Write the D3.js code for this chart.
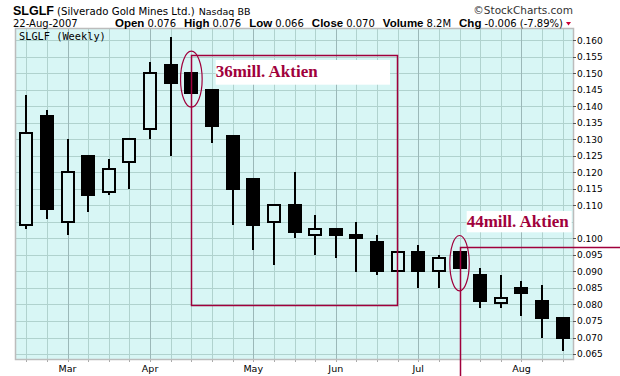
<!DOCTYPE html>
<html><head><meta charset="utf-8">
<script src="https://cdn.jsdelivr.net/npm/d3@7"></script>
<style>
html,body{margin:0;padding:0;background:#fff;}
svg{display:block;}
</style></head>
<body>
<script>
// ---- data ----
const weeks = ["2007-02-19","2007-02-26","2007-03-05","2007-03-12","2007-03-19","2007-03-26","2007-04-02","2007-04-09","2007-04-16","2007-04-23","2007-04-30","2007-05-07","2007-05-14","2007-05-21","2007-05-28","2007-06-04","2007-06-11","2007-06-18","2007-06-25","2007-07-02","2007-07-09","2007-07-16","2007-07-23","2007-07-30","2007-08-06","2007-08-13","2007-08-20"];
const openV  = [0.104,0.137,0.105,0.125,0.114,0.123,0.133,0.1525,0.150,0.145,0.131,0.118,0.105,0.110,0.101,0.103,0.101,0.099,0.090,0.096,0.090,0.096,0.089,0.0806,0.085,0.081,0.076];
const highV  = [0.1435,0.139,0.130,0.125,0.124,0.130,0.1535,0.161,0.150,0.145,0.131,0.118,0.110,0.120,0.107,0.103,0.105,0.101,0.096,0.098,0.095,0.096,0.091,0.089,0.087,0.086,0.076];
const lowV   = [0.103,0.106,0.101,0.108,0.113,0.115,0.130,0.125,0.144,0.129,0.104,0.0965,0.092,0.100,0.095,0.094,0.0897,0.089,0.090,0.085,0.085,0.091,0.079,0.079,0.0766,0.070,0.066];
const closeV = [0.132,0.109,0.120,0.113,0.121,0.130,0.150,0.147,0.144,0.134,0.115,0.104,0.110,0.102,0.103,0.101,0.100,0.090,0.096,0.090,0.094,0.091,0.081,0.082,0.0836,0.076,0.070];
const yTicks = [0.065,0.070,0.075,0.080,0.085,0.090,0.095,0.100,0.110,0.115,0.120,0.125,0.130,0.135,0.140,0.145,0.150,0.155,0.160];
const yGrid = d3.range(0.065, 0.1601, 0.005);
const monthNames = ["Jan","Feb","Mar","Apr","May","Jun","Jul","Aug","Sep","Oct","Nov","Dec"];
const headerLine = [["Open","0.076"],["High","0.076"],["Low","0.066"],["Close","0.070"],["Volume","8.2M"],["Chg","-0.006 (-7.89%)"]];

// ---- layout ----
const W = 620, H = 376;
const L = 16, R = 573, T = 29, B = 359;
const BG = "#d8f6f5";
const RED = "#a0003c";

const svg = d3.select("body").append("svg").attr("width", W).attr("height", H)
  .style("font-family", "'DejaVu Sans', sans-serif");

const x = d3.scaleBand().domain(weeks).range([L, R]).padding(0);
const cx = d => x(d) + x.bandwidth() / 2;
const y = d3.scaleLinear().domain([0.0635, 0.1634]).range([B, T]);
const px = v => Math.round(v) + 0.5;

// plot background
svg.append("rect").attr("x", L).attr("y", T).attr("width", R - L).attr("height", B - T).attr("fill", BG);

// horizontal grid
svg.append("g").selectAll("line").data(yGrid).join("line")
  .attr("x1", L).attr("x2", R)
  .attr("y1", d => px(y(d))).attr("y2", d => px(y(d)))
  .attr("stroke", "#b0d2ce").attr("stroke-width", 1);

// month start flags
const parse = d3.timeParse("%Y-%m-%d");
const isMonthStart = weeks.map((w, i) => i > 0 && parse(w).getMonth() !== parse(weeks[i - 1]).getMonth());

// vertical grid
svg.append("g").selectAll("line").data(weeks).join("line")
  .attr("x1", d => px(cx(d))).attr("x2", d => px(cx(d)))
  .attr("y1", T).attr("y2", B)
  .attr("stroke", (d, i) => isMonthStart[i] ? "#9bb8b8" : "#b0d2ce").attr("stroke-width", 1);

// bottom ticks
svg.append("g").selectAll("line").data(weeks).join("line")
  .attr("x1", d => px(cx(d))).attr("x2", d => px(cx(d)))
  .attr("y1", B).attr("y2", B + 3)
  .attr("stroke", "#aaa");

// month labels
svg.append("g").selectAll("text").data(weeks.filter((w, i) => isMonthStart[i])).join("text")
  .attr("x", d => cx(d)).attr("y", 371.5).attr("text-anchor", "middle")
  .attr("font-size", 9.5).attr("fill", "#000")
  .text(d => monthNames[parse(d).getMonth()]);

// border
svg.append("rect").attr("x", L - 0.5).attr("y", T - 0.5).attr("width", R - L + 1).attr("height", B - T + 1)
  .attr("fill", "none").attr("stroke", "#bcbcbc").attr("stroke-width", 1.5);

// y axis ticks and labels
const yAxis = svg.append("g");
yAxis.selectAll("line").data(yTicks).join("line")
  .attr("x1", R).attr("x2", R + 3)
  .attr("y1", d => px(y(d))).attr("y2", d => px(y(d)))
  .attr("stroke", "#555");
yAxis.selectAll("text").data(yTicks).join("text")
  .attr("x", R + 4).attr("y", d => y(d) + 3.3)
  .attr("font-size", 9).attr("fill", "#000")
  .text(d3.format(".3f"));

// candles
const idx = d3.range(weeks.length);
const bw = 12;
const cg = svg.append("g").attr("shape-rendering", "crispEdges");
cg.selectAll("line").data(idx).join("line")
  .attr("x1", i => Math.round(cx(weeks[i]))).attr("x2", i => Math.round(cx(weeks[i])))
  .attr("y1", i => y(highV[i])).attr("y2", i => y(lowV[i]))
  .attr("stroke", "#000").attr("stroke-width", 2);
cg.selectAll("rect").data(idx).join("rect")
  .attr("x", i => Math.round(cx(weeks[i])) - bw / 2)
  .attr("y", i => y(Math.max(openV[i], closeV[i])))
  .attr("width", bw)
  .attr("height", i => Math.max(2, Math.abs(y(openV[i]) - y(closeV[i]))))
  .attr("fill", i => closeV[i] < openV[i] ? "#000" : BG)
  .attr("stroke", "#000").attr("stroke-width", 2);

// chart label
svg.append("text").attr("x", 19).attr("y", 39.7)
  .attr("font-family", "'DejaVu Sans Mono', monospace").attr("font-size", 10.3).attr("fill", "#000")
  .text("SLGLF (Weekly)");

// header
const h1 = svg.append("text").attr("x", 13).attr("y", 14.5).attr("fill", "#000");
h1.append("tspan").attr("font-family", "'Liberation Sans', Arial, sans-serif").attr("font-weight", "bold").attr("font-size", 12.5).text("SLGLF");
h1.append("tspan").attr("dx", 3).attr("font-size", 10.2).text("(Silverado Gold Mines Ltd.)");
h1.append("tspan").attr("dx", 4).attr("font-size", 9.5).text("Nasdaq BB");
svg.append("text").attr("x", 573).attr("y", 14).attr("text-anchor", "end")
  .attr("font-size", 10.5).attr("fill", "#333").text("\u00A9StockCharts.com");
svg.append("text").attr("x", 13).attr("y", 27).attr("font-size", 10).attr("fill", "#000").text("22-Aug-2007");
const h2 = svg.append("text").attr("x", 563).attr("y", 27).attr("text-anchor", "end").attr("fill", "#000");
headerLine.forEach(([k, v], i) => {
  h2.append("tspan").attr("dx", i ? 8 : 0).attr("font-family", "'Liberation Sans', Arial, sans-serif")
    .attr("font-weight", "bold").attr("font-size", 11.5).text(k);
  h2.append("tspan").attr("dx", 3).attr("font-size", 10).text(v);
});
svg.append("path").attr("d", d3.line()([[566, 22], [571, 22], [568.5, 25.5]]) + "Z").attr("fill", "#cc0033");

// ---- annotations ----
const ann = svg.append("g");
// 36mill box
const i1 = 8, i1b = 18;
ann.append("rect")
  .attr("x", px(cx(weeks[i1]))).attr("y", px(y(0.1555)))
  .attr("width", Math.round(cx(weeks[i1b]) - cx(weeks[i1]))).attr("height", Math.round(y(0.0798) - y(0.1555)))
  .attr("fill", "none").attr("stroke", RED).attr("stroke-width", 1.5);
ann.append("ellipse").attr("cx", cx(weeks[i1])).attr("cy", y(0.1482)).attr("rx", 10.8).attr("ry", 28)
  .attr("fill", "none").attr("stroke", RED).attr("stroke-width", 1.2);
ann.append("rect").attr("x", 215.7).attr("y", 60).attr("width", 174.3).attr("height", 24.7).attr("fill", "#fff");
ann.append("text").attr("x", 215.7).attr("y", 76.7)
  .attr("font-family", "'Liberation Serif', 'Times New Roman', serif").attr("font-weight", "bold")
  .attr("font-size", 17).attr("fill", RED).text("36mill. Aktien");

// 44mill
const i2 = 21;
ann.append("ellipse").attr("cx", cx(weeks[i2])).attr("cy", y(0.0925)).attr("rx", 9.7).attr("ry", 27.7)
  .attr("fill", "none").attr("stroke", RED).attr("stroke-width", 1.2);
ann.append("path")
  .attr("d", d3.line()([[px(cx(weeks[i2])), H], [px(cx(weeks[i2])), px(y(0.0975))], [W, px(y(0.0975))]]))
  .attr("fill", "none").attr("stroke", RED).attr("stroke-width", 1.5);
ann.append("rect").attr("x", 466.7).attr("y", 211).attr("width", 105).attr("height", 21.3).attr("fill", "#fff");
ann.append("text").attr("x", 466.7).attr("y", 226.7)
  .attr("font-family", "'Liberation Serif', 'Times New Roman', serif").attr("font-weight", "bold")
  .attr("font-size", 17).attr("fill", RED).text("44mill. Aktien");
</script>
</body></html>
